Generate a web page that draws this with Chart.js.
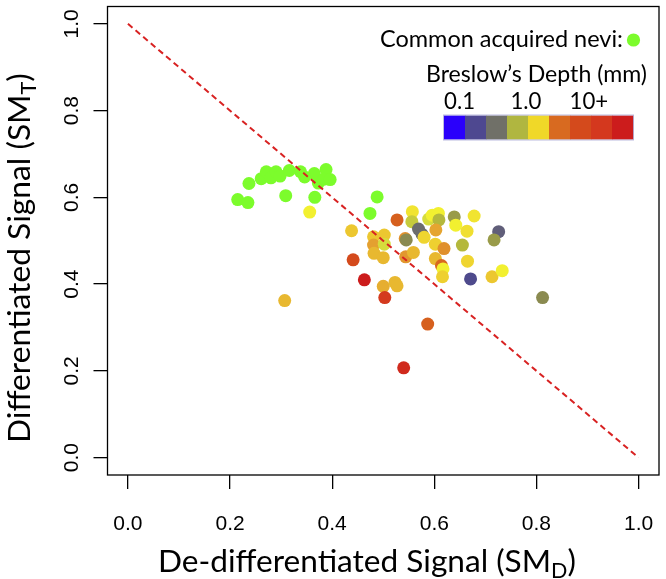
<!DOCTYPE html>
<html lang="en">
<head>
    <meta charset="UTF-8">
    <title>Differentiated vs de-differentiated signal</title>
    <script src="https://cdn.jsdelivr.net/npm/chart.js"></script>
    <style>
        body {
            margin: 0;
            background: #fff;
        }

        #wrap {
            width: 666px;
            height: 579px;
        }
    </style>
</head>
<body>
    <div id="wrap"><canvas id="chart" width="666" height="579"></canvas></div>

    <script>
        // common acquired nevi (green points)
        const neviX = [0.215, 0.235, 0.237, 0.261, 0.271, 0.280, 0.290, 0.298, 0.316, 0.338,
                       0.309, 0.346, 0.365, 0.373, 0.366, 0.388, 0.384, 0.396, 0.488, 0.474];
        const neviY = [0.595, 0.588, 0.632, 0.643, 0.659, 0.645, 0.659, 0.649, 0.662, 0.659,
                       0.604, 0.647, 0.655, 0.633, 0.600, 0.664, 0.642, 0.641, 0.601, 0.563];

        // melanomas, coloured by Breslow's depth (mm)
        const melX = [0.557, 0.527, 0.556, 0.589, 0.596, 0.608, 0.609, 0.639, 0.642, 0.678,
                      0.664, 0.726, 0.717, 0.438, 0.481, 0.502, 0.481, 0.502, 0.543, 0.545,
                      0.569, 0.576, 0.580, 0.603, 0.602, 0.619, 0.655, 0.482, 0.500, 0.544,
                      0.559, 0.602, 0.665, 0.441, 0.614, 0.617, 0.616, 0.713, 0.733, 0.671,
                      0.463, 0.500, 0.523, 0.527, 0.503, 0.587, 0.356, 0.307, 0.540, 0.812];
        const melY = [0.567, 0.548, 0.544, 0.550, 0.559, 0.563, 0.548, 0.555, 0.536, 0.557,
                      0.522, 0.521, 0.502, 0.523, 0.509, 0.513, 0.490, 0.492, 0.505, 0.502,
                      0.527, 0.515, 0.508, 0.525, 0.492, 0.482, 0.490, 0.471, 0.461, 0.463,
                      0.473, 0.459, 0.453, 0.456, 0.443, 0.435, 0.417, 0.417, 0.431, 0.412,
                      0.410, 0.395, 0.404, 0.396, 0.369, 0.308, 0.566, 0.362, 0.207, 0.369];
        const melDepth = [1.2, 6.5, 0.7, 0.8, 1.0, 1.0, 0.6, 0.5, 1.0, 1.2,
                          1.3, 0.28, 0.5, 1.8, 1.8, 1.8, 3, 0.8, 4, 0.45,
                          0.35, 0.35, 1.5, 2.8, 1.6, 4, 0.6, 2.2, 2.2, 3.5,
                          2.2, 2.2, 1.5, 9, 6, 1.0, 1.6, 1.8, 1.0, 0.2,
                          15, 2.5, 2.2, 2.2, 11, 6.5, 1.0, 2.2, 13, 0.45];

        // SM_D + SM_T = 1 reference line
        const diagX = [0, 1];
        const diagY = [1, 0];

        const axisTicks = [0, 0.2, 0.4, 0.6, 0.8, 1.0];
        const depthLabels = ['0.1', '1.0', '10+'];

        const NEVI_GREEN = '#7cfc2c';
        const barColors = ['#2a00fb', '#4e4890', '#707068', '#b0b640', '#f0d828',
                           '#d86a20', '#d44a1c', '#d4381e', '#cc1c1c'];
        // depth -> colour stops, interpolated on a log scale
        const ramp = [[0.1, '#2a00fb'], [0.2, '#4e4a8c'], [0.35, '#6c6c6c'], [0.45, '#8a8a50'],
                      [0.6, '#b4b83c'], [0.8, '#d6dc3c'], [1.0, '#f2f030'], [1.5, '#efd530'],
                      [2.2, '#e8b830'], [3, '#e4a030'], [4, '#e0902c'], [6.5, '#d6601e'],
                      [9, '#d44a1c'], [11, '#d43a1e'], [15, '#cc1c1c']];

        function hexRgb(h) {
            return [1, 3, 5].map(i => parseInt(h.substr(i, 2), 16));
        }

        function depthColor(d) {
            if (d <= ramp[0][0]) return ramp[0][1];
            for (let i = 1; i < ramp.length; i++) {
                if (d <= ramp[i][0]) {
                    const t = (Math.log(d) - Math.log(ramp[i - 1][0])) / (Math.log(ramp[i][0]) - Math.log(ramp[i - 1][0]));
                    const a = hexRgb(ramp[i - 1][1]), b = hexRgb(ramp[i][1]);
                    const c = a.map((v, k) => Math.round(v + (b[k] - v) * t));
                    return 'rgb(' + c.join(',') + ')';
                }
            }
            return ramp[ramp.length - 1][1];
        }

        const FONT = 'Lato, "Open Sans", sans-serif';
        const TICK_FONT = '"Liberation Sans", Arial, sans-serif';

        function setFont(ctx, size) {
            ctx.font = size + 'px ' + FONT;
        }

        // text made of parts, some of them subscripts
        function richWidth(ctx, parts, size) {
            let w = 0;
            parts.forEach(p => {
                setFont(ctx, p.sub ? size * 0.68 : size);
                w += ctx.measureText(p.t).width;
            });
            return w;
        }

        function drawRich(ctx, parts, x, y, size) {
            parts.forEach(p => {
                setFont(ctx, p.sub ? size * 0.68 : size);
                ctx.fillText(p.t, x, y + (p.sub ? size * 0.2 : 0));
                x += ctx.measureText(p.t).width;
            });
        }

        function fitSize(ctx, parts, width) {
            return 100 * width / richWidth(ctx, parts, 100);
        }

        const decor = {
            id: 'decor',
            afterDraw(chart) {
                const ctx = chart.ctx;
                const a = chart.chartArea;
                ctx.save();

                // plot box
                ctx.strokeStyle = '#000';
                ctx.lineWidth = 1.3;
                ctx.strokeRect(a.left, a.top, a.right - a.left, a.bottom - a.top);

                ctx.fillStyle = '#000';
                ctx.textAlign = 'left';
                ctx.textBaseline = 'alphabetic';

                // axis titles
                const xt = [{ t: 'De-differentiated Signal (SM' }, { t: 'D', sub: true }, { t: ')' }];
                drawRich(ctx, xt, 158, 572, fitSize(ctx, xt, 418));

                const yt = [{ t: 'Differentiated Signal (SM' }, { t: 'T', sub: true }, { t: ')' }];
                const ys = fitSize(ctx, yt, 370);
                ctx.save();
                ctx.translate(30, 443);
                ctx.rotate(-Math.PI / 2);
                drawRich(ctx, yt, 0, 0, ys);
                ctx.restore();

                // legend
                const l1 = [{ t: 'Common acquired nevi:' }];
                drawRich(ctx, l1, 380, 47, fitSize(ctx, l1, 243));
                ctx.fillStyle = NEVI_GREEN;
                ctx.beginPath();
                ctx.arc(633.5, 40, 6.6, 0, Math.PI * 2);
                ctx.fill();

                ctx.fillStyle = '#000';
                const l2 = [{ t: 'Breslow\u2019s Depth (mm)' }];
                drawRich(ctx, l2, 426, 82, fitSize(ctx, l2, 221));

                const barLeft = 444, barTop = 115.5, cellW = 21, barH = 24;
                const labelCenters = [0.74, 3.9, 6.9];
                const ds = fitSize(ctx, [{ t: depthLabels[0] }], 31);
                setFont(ctx, ds);
                ctx.textAlign = 'center';
                depthLabels.forEach((t, i) => {
                    ctx.fillText(t, barLeft + labelCenters[i] * cellW, 109);
                });

                barColors.forEach((c, i) => {
                    ctx.fillStyle = c;
                    ctx.fillRect(barLeft + i * cellW, barTop, cellW + 0.5, barH);
                });
                ctx.strokeStyle = 'rgba(170, 170, 215, 0.8)';
                ctx.lineWidth = 1;
                ctx.strokeRect(barLeft - 0.5, barTop - 0.5, cellW * barColors.length + 1, barH + 1);

                ctx.restore();
            }
        };

        const setTicks = s => { s.ticks = axisTicks.map(v => ({ value: v })); };

        new Chart(document.getElementById('chart').getContext('2d'), {
            type: 'scatter',
            data: {
                datasets: [{
                    label: 'SMD + SMT = 1',
                    data: diagX.map((x, i) => ({ x: x, y: diagY[i] })),
                    showLine: true,
                    borderColor: '#d82222',
                    borderWidth: 2,
                    borderDash: [6, 4],
                    pointRadius: 0,
                    order: 0
                }, {
                    label: 'Melanoma',
                    data: melX.map((x, i) => ({ x: x, y: melY[i] })),
                    pointBackgroundColor: melDepth.map(depthColor),
                    pointBorderWidth: 0,
                    pointRadius: 6.5,
                    order: 1
                }, {
                    label: 'Common acquired nevi',
                    data: neviX.map((x, i) => ({ x: x, y: neviY[i] })),
                    pointBackgroundColor: NEVI_GREEN,
                    pointBorderWidth: 0,
                    pointRadius: 6.5,
                    order: 2
                }]
            },
            options: {
                responsive: false,
                animation: false,
                layout: { padding: { top: 3.5, right: 7, left: 0, bottom: 0 } },
                plugins: {
                    legend: { display: false },
                    tooltip: { enabled: false }
                },
                scales: {
                    x: {
                        type: 'linear',
                        min: -0.04,
                        max: 1.04,
                        afterBuildTicks: setTicks,
                        afterFit: s => { s.height = 104; s.paddingLeft = 0; s.paddingRight = 0; },
                        grid: { drawOnChartArea: false, drawTicks: true, tickLength: 14, color: '#000', lineWidth: 1.3 },
                        border: { display: false },
                        ticks: {
                            padding: 23,
                            color: '#000',
                            font: { family: TICK_FONT, size: 21 },
                            callback: v => v.toFixed(1)
                        }
                    },
                    y: {
                        type: 'linear',
                        min: -0.04,
                        max: 1.04,
                        afterBuildTicks: setTicks,
                        afterFit: s => { s.width = 107.5; s.paddingTop = 0; s.paddingBottom = 0; },
                        grid: { drawOnChartArea: false, drawTicks: true, tickLength: 14, color: '#000', lineWidth: 1.3 },
                        border: { display: false },
                        ticks: {
                            padding: 7,
                            minRotation: 90,
                            maxRotation: 90,
                            crossAlign: 'center',
                            color: '#000',
                            font: { family: TICK_FONT, size: 21 },
                            callback: v => v.toFixed(1)
                        }
                    }
                }
            },
            plugins: [decor]
        });
    </script>
</body>
</html>
